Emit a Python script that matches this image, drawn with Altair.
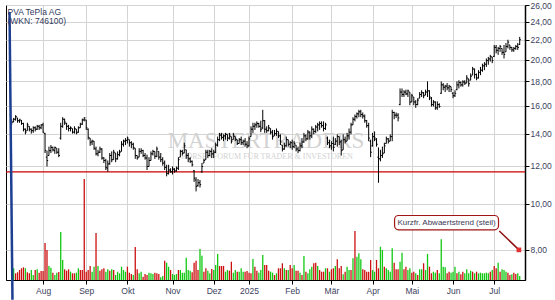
import json
import altair as alt
import pandas as pd

# ---------------- data ----------------
START, END = "2024-07-10", "2025-07-18"
XETRA_HOLIDAYS = ["2024-12-24", "2024-12-25", "2024-12-26", "2024-12-31",
                  "2025-01-01", "2025-04-18", "2025-04-21", "2025-05-01"]

open_ = [14.9, 14.8, 15.0, 15.1, 14.9, 14.9, 14.7, 14.3, 14.2, 14.5,
         14.3, 14.2, 14.4, 14.3, 14.5, 14.4, 14.6, 14.0, 12.5, 12.6,
         12.9, 13.1, 12.9, 13.05, 12.8, 13.7, 14.5, 15.0, 14.7, 14.5,
         14.35, 14.35, 14.1, 14.3, 14.1, 14.4, 14.65, 14.95, 14.95, 14.3,
         13.7, 13.45, 13.5, 13.0, 12.7, 12.8, 13.0, 12.45, 12.3, 11.85,
         12.1, 12.6, 12.35, 12.75, 12.4, 12.65, 12.85, 13.3, 13.5, 13.55,
         13.6, 13.4, 13.3, 13.05, 12.6, 12.5, 12.85, 12.9, 12.6, 12.45,
         11.95, 12.3, 12.7, 12.85, 12.55, 12.85, 12.5, 12.35, 12.15, 11.9,
         11.55, 11.75, 11.65, 11.8, 11.7, 11.85, 12.5, 12.85, 12.75, 12.95,
         12.6, 12.4, 12.25, 11.7, 11.2, 10.9, 11.05, 11.65, 12.15, 12.35,
         12.8, 12.6, 12.85, 12.7, 12.8, 13.25, 13.6, 13.9, 13.75, 13.85,
         13.95, 13.7, 13.8, 13.6, 13.8, 13.6, 13.35, 13.6, 13.4, 13.5,
         13.3, 13.2, 13.8, 14.3, 14.5, 14.6, 14.7, 14.5, 14.4, 14.9,
         14.3, 14.2, 14.35, 14.1, 13.85, 14.0, 14.15, 13.85, 13.25, 13.0,
         13.2, 13.6, 13.3, 13.4, 13.15, 13.25, 13.0, 12.9, 13.2, 13.45,
         13.85, 13.65, 14.1, 13.85, 14.3, 14.15, 14.45, 14.6, 14.7, 14.55,
         14.35, 13.7, 13.4, 13.2, 13.35, 13.3, 13.5, 13.8, 13.45, 12.95,
         13.6, 13.5, 13.85, 14.1, 14.6, 15.0, 15.2, 15.4, 15.55, 15.35,
         15.2, 14.9, 14.55, 13.5, 13.2, 13.8, 13.6, 12.5, 12.4, 12.6,
         12.75, 13.35, 13.65, 13.5, 13.8, 15.5, 15.3, 15.3, 16.1, 17.1,
         16.9, 17.1, 16.95, 17.1, 16.3, 16.7, 16.3, 16.1, 16.6, 16.9,
         17.05, 16.85, 17.1, 17.2, 16.6, 16.1, 16.3, 15.85, 16.1, 17.0,
         17.7, 17.5, 17.6, 17.45, 17.55, 17.0, 16.8, 17.3, 17.7, 17.9,
         17.7, 17.95, 17.85, 18.2, 18.1, 18.55, 19.1, 18.6, 18.3, 18.8,
         19.0, 19.4, 19.55, 19.9, 20.05, 20.25, 20.3, 21.2, 20.9, 21.1,
         21.1, 20.7, 20.75, 21.3, 21.45, 21.2, 20.95, 21.1, 21.3, 21.5]

high = [15.0, 15.1, 15.3, 15.1, 15.0, 14.95, 14.75, 14.35, 14.75, 14.5,
        14.35, 14.5, 14.5, 14.6, 14.6, 14.65, 14.75, 14.05, 12.9, 13.15,
        13.25, 13.15, 13.15, 13.05, 13.05, 14.75, 15.15, 15.05, 14.75, 14.6,
        14.5, 14.35, 14.5, 14.3, 14.5, 14.75, 15.05, 15.15, 14.95, 14.35,
        13.7, 13.6, 13.5, 13.15, 12.95, 13.15, 13.05, 12.5, 12.4, 12.3,
        12.75, 12.85, 12.95, 12.75, 12.85, 12.95, 13.5, 13.6, 13.7, 13.8,
        13.6, 13.5, 13.4, 13.05, 12.6, 13.05, 13.05, 12.95, 12.75, 12.65,
        12.5, 12.85, 12.95, 12.85, 13.15, 12.85, 12.75, 12.5, 12.3, 12.05,
        12.05, 11.85, 11.95, 11.85, 11.95, 12.5, 12.95, 12.95, 13.4, 12.95,
        12.75, 12.5, 12.3, 11.75, 11.35, 11.25, 11.2, 12.15, 12.4, 12.95,
        12.95, 12.95, 13.05, 12.95, 13.4, 13.8, 14.05, 14.05, 13.95, 14.05,
        13.95, 14.05, 13.8, 14.05, 13.8, 13.6, 13.7, 13.8, 13.6, 13.7,
        13.5, 13.8, 14.5, 14.75, 14.75, 14.85, 14.75, 14.9, 15.7, 14.95,
        14.5, 14.6, 14.35, 14.25, 14.25, 14.35, 14.15, 13.95, 13.25, 13.4,
        13.8, 13.6, 13.5, 13.6, 13.5, 13.25, 13.15, 13.4, 13.7, 14.05,
        13.95, 14.25, 14.15, 14.5, 14.35, 14.6, 14.75, 14.85, 14.85, 14.85,
        14.75, 13.8, 13.6, 13.5, 13.8, 13.7, 13.95, 13.8, 13.6, 13.95,
        13.8, 14.05, 14.35, 14.75, 15.15, 15.35, 15.5, 15.7, 15.7, 15.5,
        15.35, 14.95, 14.75, 13.6, 14.05, 14.15, 13.7, 13.1, 12.95, 13.15,
        13.4, 13.8, 13.7, 13.95, 15.7, 15.55, 15.5, 15.45, 17.4, 17.4,
        17.25, 17.3, 17.3, 17.1, 16.95, 16.7, 16.45, 16.6, 17.1, 17.25,
        17.1, 17.3, 18.0, 17.25, 16.7, 16.45, 16.35, 16.35, 16.2, 18.0,
        17.85, 17.7, 17.85, 17.7, 17.55, 17.1, 17.25, 18.0, 18.1, 18.0,
        18.1, 18.1, 18.55, 18.25, 18.7, 19.3, 19.15, 18.7, 19.0, 19.3,
        19.6, 19.75, 20.1, 20.25, 20.45, 20.25, 21.45, 21.45, 21.25, 21.45,
        21.1, 21.45, 21.65, 22.0, 21.45, 21.25, 21.25, 21.45, 21.65, 22.3]

low = [14.6, 14.8, 14.9, 14.75, 14.75, 14.6, 14.15, 13.95, 14.2, 14.15,
       14.0, 14.05, 14.15, 14.25, 14.25, 14.3, 14.05, 12.75, 11.95, 12.6,
       12.75, 12.85, 12.7, 12.7, 12.5, 13.6, 14.4, 14.6, 14.25, 14.15,
       14.15, 14.0, 14.0, 13.95, 14.05, 14.4, 14.6, 14.85, 14.25, 13.6,
       13.2, 13.25, 12.95, 12.6, 12.55, 12.75, 12.35, 12.15, 11.75, 11.65,
       12.05, 12.2, 12.35, 12.2, 12.35, 12.55, 12.85, 13.15, 13.25, 13.35,
       13.15, 13.05, 12.95, 12.4, 12.35, 12.5, 12.7, 12.5, 12.35, 11.75,
       11.95, 12.3, 12.6, 12.4, 12.5, 12.35, 12.2, 12.0, 11.75, 11.4,
       11.5, 11.6, 11.5, 11.6, 11.65, 11.75, 12.5, 12.6, 12.75, 12.4,
       12.2, 12.15, 11.95, 11.1, 10.6, 10.85, 10.8, 11.6, 12.15, 12.35,
       12.45, 12.55, 12.45, 12.45, 12.75, 13.15, 13.5, 13.6, 13.5, 13.6,
       13.5, 13.6, 13.35, 13.6, 13.5, 13.25, 13.35, 13.25, 13.25, 13.15,
       13.05, 13.15, 13.8, 14.05, 14.25, 14.4, 14.4, 14.1, 14.3, 14.05,
       14.05, 14.15, 13.95, 13.6, 13.85, 13.85, 13.7, 13.25, 12.85, 12.95,
       13.15, 13.15, 13.05, 12.95, 13.05, 12.85, 12.75, 12.85, 13.05, 13.4,
       13.5, 13.6, 13.6, 13.7, 13.95, 14.05, 14.15, 14.25, 14.4, 14.15,
       14.25, 13.25, 13.05, 12.95, 12.85, 13.25, 13.15, 13.25, 12.6, 12.95,
       13.35, 13.5, 13.6, 13.95, 14.6, 14.85, 15.05, 15.15, 15.15, 15.05,
       14.75, 14.4, 13.5, 12.5, 13.15, 13.5, 13.15, 11.05, 12.25, 12.45,
       12.75, 13.35, 13.35, 13.5, 13.5, 15.0, 15.1, 14.85, 16.05, 16.7,
       16.7, 16.85, 16.7, 16.05, 16.3, 16.05, 15.85, 16.05, 16.6, 16.7,
       16.6, 16.85, 16.7, 16.45, 15.95, 15.95, 15.7, 15.7, 15.85, 16.95,
       17.25, 17.1, 17.25, 17.1, 17.1, 16.6, 16.7, 17.25, 17.4, 17.55,
       17.55, 17.7, 17.85, 17.55, 18.1, 18.55, 18.25, 18.1, 18.25, 18.55,
       18.85, 19.0, 19.3, 19.5, 19.8, 19.65, 20.25, 20.6, 20.45, 20.75,
       20.45, 20.1, 20.75, 21.1, 20.95, 20.75, 20.75, 20.95, 20.95, 21.45]

close = [14.8, 15.0, 15.2, 14.9, 15.0, 14.7, 14.3, 14.1, 14.6, 14.3,
         14.2, 14.4, 14.3, 14.5, 14.4, 14.6, 14.1, 12.9, 12.3, 12.9,
         13.1, 12.95, 13.1, 12.8, 12.6, 14.5, 15.0, 14.8, 14.5, 14.35,
         14.4, 14.1, 14.35, 14.05, 14.4, 14.65, 14.95, 15.1, 14.4, 13.75,
         13.4, 13.5, 13.05, 12.7, 12.8, 13.0, 12.45, 12.3, 11.9, 12.1,
         12.6, 12.35, 12.8, 12.4, 12.65, 12.8, 13.3, 13.5, 13.55, 13.7,
         13.4, 13.3, 13.1, 12.6, 12.45, 12.85, 12.9, 12.6, 12.45, 11.95,
         12.3, 12.7, 12.85, 12.55, 13.0, 12.5, 12.35, 12.15, 11.9, 11.55,
         11.75, 11.65, 11.8, 11.7, 11.85, 12.35, 12.85, 12.75, 13.2, 12.6,
         12.4, 12.25, 12.05, 11.3, 10.85, 11.05, 10.95, 11.95, 12.3, 12.8,
         12.6, 12.85, 12.7, 12.8, 13.25, 13.6, 13.9, 13.75, 13.85, 13.95,
         13.7, 13.9, 13.5, 13.9, 13.65, 13.35, 13.6, 13.4, 13.5, 13.3,
         13.2, 13.65, 14.3, 14.5, 14.6, 14.7, 14.5, 14.3, 14.9, 14.3,
         14.2, 14.4, 14.1, 13.8, 14.0, 14.15, 13.85, 13.45, 13.0, 13.2,
         13.6, 13.3, 13.4, 13.15, 13.35, 13.0, 12.9, 13.2, 13.45, 13.85,
         13.65, 14.1, 13.85, 14.3, 14.15, 14.45, 14.6, 14.7, 14.55, 14.35,
         14.6, 13.4, 13.2, 13.35, 13.1, 13.5, 13.8, 13.45, 12.9, 13.6,
         13.5, 13.85, 14.1, 14.6, 15.0, 15.2, 15.4, 15.55, 15.35, 15.25,
         14.9, 14.55, 13.7, 12.8, 13.8, 13.7, 13.3, 12.4, 12.6, 12.7,
         13.2, 13.65, 13.5, 13.8, 15.5, 15.3, 15.3, 15.1, 17.1, 16.9,
         17.1, 16.95, 17.2, 16.3, 16.8, 16.3, 16.1, 16.45, 16.9, 17.05,
         16.8, 17.1, 17.2, 16.7, 16.1, 16.3, 15.85, 16.1, 15.95, 17.7,
         17.5, 17.6, 17.45, 17.6, 17.3, 16.8, 17.0, 17.7, 17.9, 17.7,
         17.95, 17.85, 18.3, 17.8, 18.45, 19.1, 18.6, 18.3, 18.8, 19.0,
         19.4, 19.55, 19.9, 20.05, 20.3, 19.9, 21.2, 20.9, 21.1, 21.3,
         20.7, 20.5, 21.3, 21.75, 21.2, 20.95, 21.1, 21.3, 21.2, 22.0]

volume = [107, 117, 67, 77, 100, 117, 127, 117, 77, 67,
          100, 50, 100, 107, 73, 90, 90, 370, 300, 140,
          123, 73, 50, 73, 80, 480, 200, 107, 93, 107,
          83, 67, 67, 73, 117, 100, 100, 1010, 83, 100,
          140, 83, 133, 470, 140, 93, 107, 117, 83, 107,
          93, 107, 100, 50, 83, 67, 133, 100, 83, 133,
          73, 60, 50, 330, 107, 67, 83, 33, 60, 50,
          73, 67, 60, 73, 67, 60, 27, 40, 193, 173,
          133, 100, 60, 50, 60, 100, 100, 73, 73, 223,
          100, 93, 77, 173, 193, 100, 310, 243, 83, 117,
          93, 67, 110, 100, 150, 260, 140, 140, 140, 83,
          100, 93, 183, 73, 100, 83, 83, 117, 83, 83,
          90, 73, 67, 210, 133, 93, 73, 100, 250, 150,
          150, 93, 83, 73, 50, 67, 117, 117, 167, 117,
          100, 100, 150, 117, 150, 93, 93, 73, 50, 240,
          83, 67, 107, 133, 167, 173, 140, 100, 83, 83,
          117, 117, 83, 107, 117, 140, 207, 117, 140, 57,
          83, 133, 100, 100, 217, 490, 233, 267, 207, 107,
          100, 83, 83, 200, 100, 83, 200, 117, 333, 300,
          133, 117, 100, 83, 317, 173, 107, 107, 183, 273,
          107, 133, 100, 117, 73, 83, 67, 50, 107, 107,
          167, 100, 260, 133, 67, 83, 73, 100, 67, 407,
          133, 127, 67, 83, 73, 83, 133, 67, 83, 57,
          83, 67, 107, 67, 93, 83, 67, 83, 67, 73,
          67, 67, 73, 67, 83, 100, 140, 117, 173, 83,
          107, 100, 83, 73, 50, 57, 73, 60, 67, 40]

vol_dir = list("rgrrrrrgrr" "ggrgrrrrrg" "grggrggrrr" "grrggrrrrr" "rggrgrrrgg"
               "rgrggggggr" "rrgrrggrrr" "gggrrrggrg" "grgggrgggg" "ggrrrrggrr"
               "ggrgggrrrg" "grrggrgggr" "rrrgrrgggr" "rrggrgrrrg" "rgrrgrrgrg"
               "rgggrrgrrr" "grgrrgrrrg" "rggrgrgggr" "rrrrggrrgg" "rggggrrrgg"
               "rrggrrgrgg" "rggrrggrgg" "ggrrgggrgr" "rggggrgrgg" "ggggrgrrgr"
               "gggrrgrrgg")

month_labels = ["Aug", "Sep", "Okt", "Nov", "Dez", "2025", "Feb", "Mär",
                "Apr", "Mai", "Jun", "Jul"]
price_ticks = [8, 10, 12, 14, 16, 18, 20, 22, 24, 26]
support_level = [11.65]
trend_i = [-1.1, 0.4]          # steep long-term trend line (navy)
trend_p = [25.14, 6.29]
note_text = ["Kurzfr. Abwaertstrend (steil)"]
note_box_i = [195.2, 248.2]
note_box_p = [9.44, 8.81]
note_text_pos = [221.7, 9.12]
note_line_i = [248.6, 258.6]
note_line_p = [8.76, 8.0]
title_text = ["PVA TePla AG\n(WKN: 746100)"]

# ---------------- table ----------------
dates = pd.bdate_range(START, END)
dates = dates[~dates.isin(pd.to_datetime(XETRA_HOLIDAYS))]
n = len(close)
dates = dates[:n]
df = pd.DataFrame({"date": dates, "open": open_, "high": high, "low": low,
                   "close": close, "volume": volume, "dir": vol_dir})
df["i"] = range(n)
df["xl"] = df["i"] - 0.6
df["xr"] = df["i"] + 0.6

per = df["date"].dt.to_period("M")
month_start = df.groupby(per)["i"].min().iloc[1:1 + len(month_labels)].tolist()
label_expr = "{}[indexof({}, datum.value)]".format(json.dumps(month_labels),
                                                   json.dumps(month_start))

FONT = "Liberation Sans"
LABEL_COLOR = "#3c4260"
xscale = alt.Scale(domain=[-0.35, 259.15], nice=False, zero=False)
xaxis = alt.Axis(values=month_start, labelExpr=label_expr, title=None,
                 grid=True, gridColor="#d4d4d4", gridWidth=1,
                 tickColor="black", tickSize=4, domainColor="black",
                 labelFont=FONT, labelFontSize=8.5, labelColor=LABEL_COLOR,
                 labelPadding=2)
X = alt.X("i:Q", scale=xscale, axis=xaxis)

yscale = alt.Scale(type="log", domain=[6.92, 26], nice=False, zero=False)
yaxis = alt.Axis(orient="right", values=price_ticks, title=None,
                 labelExpr="replace(format(datum.value, '.2f'), '.', ',')",
                 grid=True, gridColor="#d4d4d4", gridWidth=1,
                 tickColor="black", tickSize=4, domainColor="black",
                 domainWidth=1.5, labelFont=FONT, labelFontSize=8.5,
                 labelColor=LABEL_COLOR, labelPadding=1)

base = alt.Chart(df)

# volume pane (own scale, lower part of the plot)
vol = base.mark_bar(size=1.3).encode(
    x=X,
    y=alt.Y("volume:Q", scale=alt.Scale(domain=[0, 2750], nice=False), axis=None),
    color=alt.Color("dir:N", scale=alt.Scale(domain=["g", "r"],
                                             range=["#12c812", "#cc1010"]),
                    legend=None),
)

hl = base.mark_rule(color="black", strokeWidth=1).encode(
    x=X,
    y=alt.Y("low:Q", scale=yscale, axis=yaxis),
    y2="high:Q",
)
otick = base.mark_rule(color="black", strokeWidth=1).encode(
    x=alt.X("xl:Q", scale=xscale, axis=xaxis), x2="i:Q",
    y=alt.Y("open:Q", scale=yscale, axis=yaxis),
)
ctick = base.mark_rule(color="black", strokeWidth=1).encode(
    x=alt.X("i:Q", scale=xscale, axis=xaxis), x2="xr:Q",
    y=alt.Y("close:Q", scale=yscale, axis=yaxis),
)

support = alt.Chart(pd.DataFrame({"p": support_level})).mark_rule(
    color="#cc0000", strokeWidth=1.3).encode(
    y=alt.Y("p:Q", scale=yscale, axis=yaxis))

trend = alt.Chart(pd.DataFrame({"i": [trend_i[0]], "i2": [trend_i[1]],
                                "p": [trend_p[0]], "p2": [trend_p[1]]})).mark_rule(
    color="#1d3f91", strokeWidth=2.5, clip=False).encode(
    x=alt.X("i:Q", scale=xscale, axis=xaxis), x2="i2:Q",
    y=alt.Y("p:Q", scale=yscale, axis=yaxis), y2="p2:Q")

note_line = alt.Chart(pd.DataFrame({"i": [note_line_i[0]], "i2": [note_line_i[1]],
                                    "p": [note_line_p[0]], "p2": [note_line_p[1]]})).mark_rule(
    color="#8e1010", strokeWidth=1.5).encode(
    x=alt.X("i:Q", scale=xscale, axis=xaxis), x2="i2:Q",
    y=alt.Y("p:Q", scale=yscale, axis=yaxis), y2="p2:Q")

note_end = alt.Chart(pd.DataFrame({"i": [note_line_i[1]], "p": [note_line_p[1]]})).mark_square(
    size=22, color="#e03030", opacity=1).encode(
    x=alt.X("i:Q", scale=xscale, axis=xaxis),
    y=alt.Y("p:Q", scale=yscale, axis=yaxis))

note_box = alt.Chart(pd.DataFrame({"i": [note_box_i[0]], "i2": [note_box_i[1]],
                                   "p": [note_box_p[0]], "p2": [note_box_p[1]]})).mark_rect(
    fill="white", stroke="#a01515", strokeWidth=1.2, cornerRadius=4).encode(
    x=alt.X("i:Q", scale=xscale, axis=xaxis), x2="i2:Q",
    y=alt.Y("p:Q", scale=yscale, axis=yaxis), y2="p2:Q")

note_lbl = alt.Chart(pd.DataFrame({"i": [note_text_pos[0]], "p": [note_text_pos[1]],
                                   "t": note_text})).mark_text(
    font=FONT, fontSize=8, color="#3a3a55", align="center", baseline="middle").encode(
    x=alt.X("i:Q", scale=xscale, axis=xaxis),
    y=alt.Y("p:Q", scale=yscale, axis=yaxis),
    text="t:N")

title = alt.Chart(pd.DataFrame({"t": title_text})).mark_text(
    font=FONT, fontSize=8.5, lineHeight=9, lineBreak="\n", color="#333a5e",
    align="left", baseline="top").encode(
    x=alt.value(1.5), y=alt.value(2.5), text="t:N")

wm = alt.Chart(pd.DataFrame({"t": ["MASTERTRADERS"]})).mark_text(
    font="Liberation Serif", fontSize=23, color="#d2d2d2", align="center",
    baseline="alphabetic").encode(x=alt.value(260), y=alt.value(143), text="t:N")
wm2 = alt.Chart(pd.DataFrame({"t": ["BÖRSENFORUM FÜR TRADER & INVESTOREN"]})).mark_text(
    font="Liberation Serif", fontSize=8, color="#d2d2d2", align="center",
    baseline="middle").encode(x=alt.value(261), y=alt.value(152), text="t:N")

price = alt.layer(wm, wm2, support, hl, otick, ctick, trend, note_line, note_end,
                  note_box, note_lbl, title)

chart = alt.layer(vol, price).resolve_scale(y="independent").properties(
    width=519, height=275,
    autosize=alt.AutoSizeParams(type="none"),
    padding={"left": 6, "top": 5, "right": 30, "bottom": 20},
    background="white",
).configure_view(stroke="black", strokeWidth=1)

chart.save("out.html", embed_options={"renderer": "svg", "actions": False})
